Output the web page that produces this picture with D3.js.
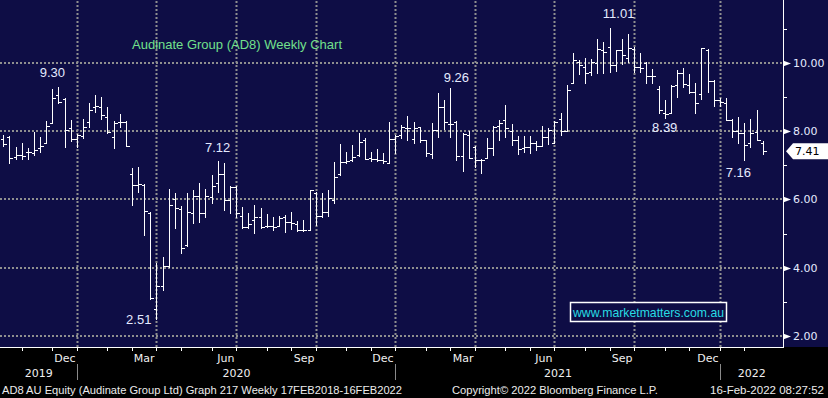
<!DOCTYPE html>
<html>
<head>
<meta charset="utf-8">
<script src="https://cdn.jsdelivr.net/npm/d3@7"></script>
<style>
  body { margin: 0; background: #000; }
  svg { display: block; }
</style>
</head>
<body>
<div class="chart"></div>
<script>
// Weekly bars for AD8, Friday-dated weeks
var firstWeek = new Date(2019, 9, 4),
    lastWeek = new Date(2022, 1, 18);

var openPx = [7.77,7.84,7.25,7.30,7.38,7.35,7.50,7.64,8.23,9.06,8.93,8.08,7.76,7.86,8.28,8.72,8.70,8.42,7.82,8.28,
  8.28,6.76,6.42,6.42,5.59,2.79,3.46,4.05,6.00,5.71,4.66,5.60,6.10,5.60,6.08,6.48,6.76,5.98,6.37,5.52,
  5.18,5.40,5.49,5.22,5.22,5.22,5.48,5.33,5.27,5.10,5.12,6.20,5.51,5.64,5.98,6.76,7.10,7.15,7.30,7.74,
  7.20,7.17,7.15,7.08,7.77,7.89,8.08,7.76,8.11,7.74,7.32,8.03,8.70,8.20,8.28,7.28,7.89,7.53,7.15,7.20,
  7.50,8.15,8.34,8.01,7.74,7.50,7.53,7.66,7.56,7.84,7.66,8.35,8.01,9.40,10.03,9.89,9.74,10.00,10.37,10.47,
  9.94,10.37,10.13,10.40,9.89,10.01,9.61,9.22,8.52,8.52,9.35,9.69,9.35,9.15,9.09,10.37,9.47,8.91,8.81,8.34,
  8.00,7.95,7.66,7.98,7.66];
var highPx = [7.89,7.86,7.55,7.64,7.50,7.98,7.82,8.30,9.22,9.30,8.96,8.33,7.91,8.37,8.83,9.06,9.01,8.72,8.30,8.49,
  8.30,6.91,6.96,6.46,5.64,4.13,4.32,6.32,6.18,5.82,6.20,6.27,6.47,6.32,6.72,7.12,7.06,6.39,6.39,5.77,
  5.59,5.84,5.74,5.56,5.49,5.51,5.54,5.62,5.38,5.40,6.29,6.22,6.20,6.28,7.09,7.62,7.40,7.59,7.94,7.79,
  7.40,7.47,7.35,8.28,7.89,8.18,8.44,8.26,8.13,7.74,8.25,9.13,8.91,9.26,8.30,7.95,8.00,7.56,7.18,7.79,
  8.15,8.34,8.78,8.21,7.86,7.86,7.86,7.72,8.15,8.10,8.30,8.52,9.35,10.28,10.08,10.13,10.10,10.69,10.62,11.01,
  10.37,10.69,10.83,10.47,10.28,10.03,9.81,9.32,8.91,9.35,9.79,9.86,9.67,9.42,10.44,10.40,9.50,8.98,8.96,8.37,
  8.40,8.23,8.37,8.62,7.72];
var lowPx = [7.56,7.07,7.18,7.18,7.17,7.30,7.40,7.64,8.23,8.81,7.54,7.72,7.54,7.79,8.13,8.57,8.37,7.94,7.51,8.13,
  7.57,5.84,6.23,4.95,3.10,2.51,3.35,4.03,5.15,4.44,4.64,5.30,5.35,5.50,5.90,6.23,5.70,5.59,5.49,5.17,
  5.17,5.03,5.17,5.20,5.12,5.22,5.05,5.13,5.08,5.07,5.10,5.25,5.49,5.52,5.89,6.71,7.06,7.13,7.27,7.17,
  7.13,7.13,7.08,7.06,7.37,7.79,7.74,7.66,7.69,7.28,7.21,7.82,8.06,7.82,7.15,6.83,7.21,6.94,6.78,7.20,
  7.30,7.74,7.84,7.59,7.32,7.38,7.35,7.45,7.56,7.62,7.64,7.88,8.01,9.40,9.67,9.40,9.64,9.71,9.69,9.74,
  9.77,9.98,10.03,9.74,9.74,9.40,9.40,8.52,8.39,8.52,9.01,9.30,9.11,8.52,8.93,9.15,8.73,8.73,8.33,7.84,
  7.64,7.16,7.54,7.74,7.33];
var closePx = [7.62,7.20,7.30,7.28,7.38,7.45,7.56,8.15,8.96,8.86,8.03,7.76,7.88,8.13,8.62,8.73,8.47,7.98,8.23,8.28,
  7.57,6.42,6.44,5.67,3.12,3.46,4.05,5.84,5.74,4.57,5.64,6.10,5.60,6.10,6.40,6.75,5.98,6.37,5.59,5.18,
  5.27,5.49,5.18,5.22,5.20,5.46,5.35,5.30,5.10,5.10,6.28,5.51,5.64,6.03,6.67,7.09,7.13,7.25,7.67,7.17,
  7.17,7.15,7.13,7.77,7.86,8.13,8.08,8.08,7.74,7.37,8.03,8.70,8.28,8.20,7.28,7.91,7.21,7.15,7.15,7.50,
  8.13,8.23,8.08,7.74,7.48,7.53,7.66,7.56,7.84,8.03,8.28,8.01,9.20,10.08,9.94,9.71,10.03,10.40,10.33,9.94,
  10.37,10.23,10.42,9.89,9.84,9.61,9.61,8.62,8.49,9.32,9.71,9.37,9.15,8.81,10.42,9.47,8.91,8.86,8.34,8.00,
  7.95,7.59,7.95,7.74,7.41];

// highs / lows called out on the chart
var noteBar = [9, 25, 35, 73, 99, 108, 121];
var noteText = ["9.30", "2.51", "7.12", "9.26", "11.01", "8.39", "7.16"];
var noteSide = ["high", "low", "high", "high", "high", "low", "low"];

var priceTicks = [2, 4, 6, 8, 10];
var minorTicks = [3, 5, 7, 9, 11];
var lastPrice = 7.41;

var chartTitle = "Audinate Group (AD8) Weekly Chart";
var webText = "www.marketmatters.com.au";
var footLeft = "AD8 AU Equity (Audinate Group Ltd) Graph 217  Weekly 17FEB2018-16FEB2022";
var footMid = "Copyright\u00a9 2022 Bloomberg Finance L.P.";
var footRight = "16-Feb-2022 08:27:52";

var svgWidth = 828, svgHeight = 398,
    plotRight = 783, plotBottom = 347;

var navy = "#0e0d45",
    gridGrey = "#8f8f8f",
    labelCol = "#e4eaff";

var svg = d3.select(".chart").append("svg")
    .attr("width", svgWidth)
    .attr("height", svgHeight)
    .style("background", "#000");

svg.append("rect")
    .attr("width", svgWidth)
    .attr("height", plotBottom)
    .attr("fill", navy);

var weeks = d3.timeFriday.range(firstWeek, d3.timeDay.offset(lastWeek, 1));
var bars = weeks.map(function(d, i) {
    return { date: d, o: openPx[i], h: highPx[i], l: lowPx[i], c: closePx[i] };
});

var x = d3.scaleTime().domain([firstWeek, lastWeek]).range([3.3, 762.7]);
var y = d3.scaleLinear().domain([1.68, 11.84]).range([plotBottom, 0]);

function px(v) { return Math.round(v) + 0.5; }
// period marks sit on the last weekly bar before the boundary
function markX(d) { return px(x(d3.timeFriday.floor(d3.timeDay.offset(d, -1)))); }

var quarters = d3.timeMonth.every(3).range(firstWeek, lastWeek);
var months = d3.timeMonth.range(firstWeek, lastWeek);
var years = d3.timeYear.range(firstWeek, lastWeek);

// dotted grid
var grid = svg.append("g")
    .attr("stroke", gridGrey)
    .attr("stroke-width", 2)
    .attr("stroke-dasharray", "2,2");

grid.selectAll(".hgrid")
    .data(priceTicks)
    .enter().append("line")
    .attr("x1", 0)
    .attr("x2", plotRight - 1)
    .attr("y1", function(d) { return Math.round(y(d)); })
    .attr("y2", function(d) { return Math.round(y(d)); });

grid.selectAll(".vgrid")
    .data(quarters)
    .enter().append("line")
    .attr("x1", function(d) { return markX(d); })
    .attr("x2", function(d) { return markX(d); })
    .attr("y1", 1)
    .attr("y2", plotBottom);

// OHLC bars
var barG = svg.append("g")
    .attr("stroke", "#fff")
    .attr("stroke-width", 1)
    .attr("fill", "none")
    .attr("shape-rendering", "crispEdges");

barG.selectAll("path")
    .data(bars)
    .enter().append("path")
    .attr("d", function(d) {
        var bx = px(x(d.date));
        return "M" + bx + "," + Math.round(y(d.h)) + "V" + (Math.round(y(d.l)) + 1) +
            "M" + (bx - 3) + "," + px(y(d.o)) + "H" + bx +
            "M" + bx + "," + px(y(d.c)) + "H" + (bx + 3);
    });

// annotations
var nudge = [[-6, -10], [-5, 5], [0, -9], [6, -6], [9, -10], [0, 14], [-6, 17]];
svg.append("g").selectAll("text")
    .data(noteBar)
    .enter().append("text")
    .attr("x", function(d, i) { return x(weeks[d]) + nudge[i][0]; })
    .attr("y", function(d, i) {
        var v = noteSide[i] == "high" ? highPx[d] : lowPx[d];
        return y(v) + nudge[i][1];
    })
    .attr("text-anchor", function(d, i) { return i == 1 ? "end" : "middle"; })
    .attr("font-family", "Liberation Sans, Arial, sans-serif")
    .attr("font-size", 13)
    .attr("fill", labelCol)
    .text(function(d, i) { return noteText[i]; });

// title
svg.append("text")
    .attr("x", 132)
    .attr("y", 49)
    .attr("font-family", "Liberation Sans, Arial, sans-serif")
    .attr("font-size", 13)
    .attr("fill", "#72e08c")
    .text(chartTitle);

// web box
svg.append("rect")
    .attr("x", 570.5)
    .attr("y", 302.5)
    .attr("width", 156)
    .attr("height", 19)
    .attr("fill", navy)
    .attr("stroke", "#fff")
    .attr("stroke-width", 1.5);

svg.append("text")
    .attr("x", 573)
    .attr("y", 317)
    .attr("font-family", "Liberation Sans, Arial, sans-serif")
    .attr("font-size", 13)
    .attr("textLength", 151)
    .attr("lengthAdjust", "spacingAndGlyphs")
    .attr("fill", "#28dce4")
    .text(webText);

// right price axis
var axisR = svg.append("g");
axisR.append("line")
    .attr("x1", plotRight + 0.5).attr("x2", plotRight + 0.5)
    .attr("y1", 0).attr("y2", plotBottom)
    .attr("stroke", "#fff");

axisR.selectAll(".major")
    .data(priceTicks)
    .enter().append("path")
    .attr("fill", "#fff")
    .attr("d", function(d) {
        var ty = Math.round(y(d)) + 0.5;
        return "M" + plotRight + "," + (ty - 3) + "L" + (plotRight + 8) + "," + ty + "L" + plotRight + "," + (ty + 3) + "Z";
    });

axisR.selectAll(".minor")
    .data(minorTicks)
    .enter().append("line")
    .attr("x1", plotRight).attr("x2", plotRight + 4)
    .attr("y1", function(d) { return px(y(d)); })
    .attr("y2", function(d) { return px(y(d)); })
    .attr("stroke", "#fff");

axisR.selectAll("text")
    .data(priceTicks)
    .enter().append("text")
    .attr("x", 793)
    .attr("y", function(d) { return y(d) + 4; })
    .attr("font-family", "DejaVu Sans, sans-serif")
    .attr("font-size", 11)
    .attr("fill", labelCol)
    .text(function(d) { return d3.format(".2f")(d); });

// last price flag
var ly = y(lastPrice);
svg.append("path")
    .attr("fill", "#fff")
    .attr("d", "M786," + ly + "L793," + (ly - 8) + "H828V" + (ly + 8) + "H793Z");
svg.append("text")
    .attr("x", 795)
    .attr("y", ly + 4)
    .attr("font-family", "DejaVu Sans, sans-serif")
    .attr("font-size", 11)
    .attr("fill", "#000")
    .text(d3.format(".2f")(lastPrice));

// bottom time axis
var axisB = svg.append("g");
axisB.append("line")
    .attr("x1", 0).attr("x2", plotRight + 1)
    .attr("y1", plotBottom + 0.5).attr("y2", plotBottom + 0.5)
    .attr("stroke", "#fff");

axisB.selectAll(".mtick")
    .data(months)
    .enter().append("line")
    .attr("x1", markX).attr("x2", markX)
    .attr("y1", plotBottom).attr("y2", plotBottom + 4)
    .attr("stroke", "#fff");

axisB.selectAll(".qlabel")
    .data(quarters)
    .enter().append("text")
    .attr("x", function(d) { return markX(d) - 2; })
    .attr("y", 362)
    .attr("text-anchor", "end")
    .attr("font-family", "DejaVu Sans, sans-serif")
    .attr("font-size", 11)
    .attr("fill", "#f0f0f0")
    .text(function(d) { return d3.timeFormat("%b")(d3.timeMonth.offset(d, -1)); });

axisB.selectAll(".ysep")
    .data(years)
    .enter().append("line")
    .attr("x1", markX).attr("x2", markX)
    .attr("y1", 364).attr("y2", 380)
    .attr("stroke", "#8a8a8a");

var yearEdges = [0].concat(years.map(markX), [plotRight]);
var yearNames = [firstWeek].concat(years);
axisB.selectAll(".ylabel")
    .data(yearNames)
    .enter().append("text")
    .attr("x", function(d, i) { return (yearEdges[i] + yearEdges[i + 1]) / 2; })
    .attr("y", 377)
    .attr("text-anchor", "middle")
    .attr("font-family", "DejaVu Sans, sans-serif")
    .attr("font-size", 11)
    .attr("fill", "#f0f0f0")
    .text(function(d) { return d3.timeFormat("%Y")(d); });

// footer
var foot = svg.append("g")
    .attr("font-family", "Liberation Sans, Arial, sans-serif")
    .attr("font-size", 10.5)
    .attr("fill", "#ececec")
    .style("white-space", "pre");

foot.append("text").attr("x", 2).attr("y", 394)
    .attr("textLength", 400).attr("lengthAdjust", "spacingAndGlyphs").text(footLeft);
foot.append("text").attr("x", 452).attr("y", 394)
    .attr("textLength", 206).attr("lengthAdjust", "spacingAndGlyphs").text(footMid);
foot.append("text").attr("x", 710).attr("y", 394)
    .attr("textLength", 114).attr("lengthAdjust", "spacingAndGlyphs").text(footRight);
</script>
</body>
</html>
